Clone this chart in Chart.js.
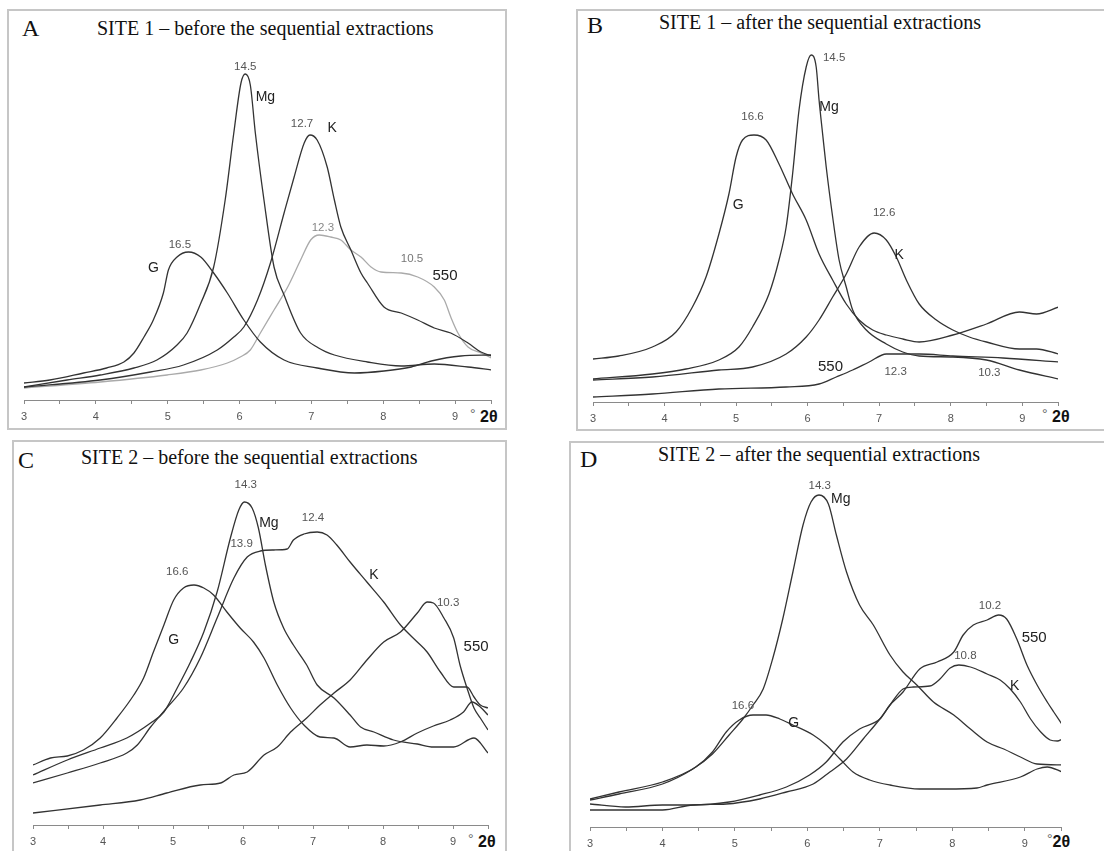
<!DOCTYPE html>
<html><head><meta charset="utf-8">
<script src="https://cdn.jsdelivr.net/npm/chart.js@4.4.0/dist/chart.umd.min.js"></script>
<style>
html,body{margin:0;padding:0;background:#fff;overflow:hidden;width:1104px;height:851px;}
.frame{position:absolute;border:2px solid #c6c6c6;box-sizing:border-box;}
.t{position:absolute;font-family:"Liberation Serif","Times New Roman",serif;color:#111;white-space:nowrap;font-size:20px;line-height:20px;}
.L{position:absolute;font-family:"Liberation Serif","Times New Roman",serif;color:#111;font-size:24px;line-height:24px;}
.u{position:absolute;font-family:"Liberation Sans",Arial,sans-serif;font-weight:bold;color:#111;font-size:16px;line-height:16px;white-space:nowrap;}
.u span{font-weight:normal;color:#666;font-size:14px;position:relative;top:-3px;}
canvas{position:absolute;}
</style></head><body>

<div class="frame" style="left:7px;top:9px;width:500px;height:421px;"></div>
<div class="frame" style="left:576px;top:9px;width:600px;height:422px;"></div>
<div class="frame" style="left:12px;top:440px;width:495px;height:500px;"></div>
<div class="frame" style="left:569px;top:441px;width:600px;height:500px;"></div>

<div class="L" style="left:22px;top:16px;">A</div>
<div class="t" style="left:97px;top:18px;">SITE 1 – before the sequential extractions</div>
<div class="L" style="left:587px;top:13px;">B</div>
<div class="t" style="left:659px;top:12px;">SITE 1 – after the sequential extractions</div>
<div class="L" style="left:18px;top:448px;">C</div>
<div class="t" style="left:81px;top:447px;">SITE 2 – before the sequential extractions</div>
<div class="L" style="left:580px;top:447px;">D</div>
<div class="t" style="left:658px;top:444px;">SITE 2 – after the sequential extractions</div>

<div class="u" style="left:470px;top:409px;"><span>°</span> 2θ</div>
<div class="u" style="left:1042px;top:409px;"><span>°</span> 2θ</div>
<div class="u" style="left:468px;top:834px;"><span>°</span> 2θ</div>
<div class="u" style="left:1047px;top:834px;"><span>°</span>2θ</div>

<canvas id="cA" width="487" height="386" style="left:14px;top:40px;"></canvas>
<canvas id="cB" width="485" height="386" style="left:583px;top:42px;"></canvas>
<canvas id="cC" width="475" height="386" style="left:23px;top:465px;"></canvas>
<canvas id="cD" width="491" height="386" style="left:580px;top:467px;"></canvas>

<script>
// ---- x-axis ticks (°2θ) ----
const tickMin = 3, tickMax = 9.5, tickStep = 0.5;

// ---- Panel A: SITE 1 before ----
const A_G_x = [3.00,3.36,3.83,4.15,4.39,4.53,4.67,4.80,4.94,5.01,5.13,5.29,5.46,5.64,5.83,6.06,6.29,6.62,7.08,7.60,8.01,8.39,8.67,9.08,9.51];
const A_G_y = [17,20,27,32,38,47,63,80,107,130,143,148,143,127,107,80,58,40,32,27,29,33,39,44,45];
const A_Mg_x = [3.00,3.60,4.06,4.53,4.85,5.13,5.27,5.45,5.64,5.80,5.92,6.02,6.08,6.15,6.22,6.34,6.48,6.62,6.85,7.10,7.32,7.78,8.25,8.71,9.18,9.51];
const A_Mg_y = [13,20,25,32,40,55,67,95,133,200,267,317,326,315,267,200,133,105,67,52,45,38,34,36,33,30];
const A_K_x = [3.00,4.06,4.76,5.22,5.69,5.92,6.06,6.25,6.43,6.62,6.76,6.90,6.98,7.08,7.22,7.32,7.41,7.55,7.69,7.78,8.01,8.25,8.48,8.71,8.94,9.18,9.36,9.51];
const A_K_y = [13,20,28,35,50,63,73,100,137,187,223,257,265,260,233,200,173,150,127,117,93,87,80,72,67,57,48,44];
const A_550_x = [3.00,4.06,4.99,5.46,5.83,6.01,6.15,6.29,6.48,6.67,6.85,6.99,7.11,7.27,7.41,7.55,7.69,7.83,7.97,8.25,8.48,8.71,8.85,8.94,9.04,9.18,9.36,9.51];
const A_550_y = [12,18,25,30,37,43,50,67,90,113,140,160,165,163,160,150,143,133,128,127,123,113,100,83,67,53,47,42];

// ---- Panel B: SITE 1 after ----
const B_G_x = [3.00,3.36,3.83,4.16,4.39,4.58,4.76,4.90,5.00,5.09,5.25,5.42,5.60,5.79,5.98,6.16,6.35,6.54,6.72,6.91,7.10,7.33,7.56,8.03,8.50,8.96,9.20,9.51];
const B_G_y = [43,46,55,70,95,125,168,208,245,262,267,262,238,208,182,148,122,98,82,72,67,63,60,67,78,90,88,95];
const B_Mg_x = [3.00,3.83,4.30,4.76,5.04,5.23,5.46,5.60,5.70,5.79,5.88,5.98,6.05,6.12,6.16,6.21,6.26,6.35,6.44,6.54,6.63,6.82,7.10,7.33,7.56,8.03,8.50,8.96,9.51];
const B_Mg_y = [23,28,33,42,55,75,108,142,175,228,292,335,347,335,302,268,235,185,142,115,92,72,58,50,46,45,42,32,23];
const B_K_x = [3.00,3.83,4.76,5.23,5.70,5.98,6.16,6.35,6.54,6.72,6.93,7.10,7.24,7.38,7.56,7.80,8.03,8.26,8.50,8.96,9.20,9.51];
const B_K_y = [22,25,32,35,48,65,82,105,128,155,169,162,145,122,98,82,72,65,60,53,53,48];
const B_550_x = [3.00,3.83,4.76,5.70,6.16,6.40,6.63,6.86,7.10,7.56,8.03,8.73,9.51];
const B_550_y = [5,8,13,15,18,25,32,40,48,48,46,44,40];

// ---- Panel C: SITE 2 before ----
const C_G_x = [3.00,3.25,3.49,3.72,3.96,4.20,4.44,4.58,4.72,4.87,5.01,5.15,5.30,5.44,5.58,5.77,5.96,6.15,6.30,6.49,6.68,6.87,7.10,7.30,7.53,7.77,8.01,8.25,8.49,8.72,8.96,9.15,9.27,9.39,9.50];
const C_G_y = [60,67,69,75,87,107,130,147,173,200,225,237,240,237,230,213,197,183,167,140,117,100,88,87,78,80,79,83,92,99,105,113,123,118,110];
const C_Mg_x = [3.00,3.49,3.96,4.34,4.68,4.87,5.06,5.25,5.44,5.63,5.82,5.94,6.02,6.13,6.22,6.32,6.44,6.58,6.72,6.91,7.06,7.30,7.53,7.68,7.87,8.15,8.49,8.72,9.01,9.30,9.50];
const C_Mg_y = [50,65,77,87,102,113,137,163,193,233,287,315,323,317,297,260,223,197,180,160,140,127,110,98,93,85,81,78,78,87,72];
const C_K_x = [3.00,3.49,3.96,4.34,4.49,4.68,4.91,5.15,5.39,5.63,5.87,6.06,6.25,6.44,6.63,6.72,6.87,7.06,7.20,7.34,7.53,7.77,8.01,8.25,8.49,8.63,8.82,9.01,9.20,9.30,9.39,9.50];
const C_K_y = [42,52,62,72,80,98,117,137,167,207,247,268,274,275,276,285,291,293,290,280,263,243,223,200,183,173,153,138,138,128,120,117];
const C_550_x = [3.00,3.96,4.53,4.91,5.39,5.68,5.87,6.06,6.30,6.49,6.68,6.91,7.10,7.30,7.53,7.77,8.01,8.25,8.49,8.63,8.72,8.87,9.01,9.10,9.20,9.30,9.39,9.50];
const C_550_y = [12,20,25,32,40,42,50,53,70,78,93,107,120,132,145,165,183,193,212,223,222,207,187,160,137,117,107,95];

// ---- Panel D: SITE 2 after ----
const D_G_x = [3.00,3.40,4.00,4.46,4.69,4.88,5.06,5.25,5.43,5.62,5.80,6.08,6.26,6.45,6.63,6.86,7.14,7.55,7.92,8.34,8.48,8.94,9.17,9.31,9.52];
const D_G_y = [28,35,45,60,75,95,107,112,112,108,102,92,82,68,55,47,42,38,38,39,42,50,58,60,55];
const D_Mg_x = [3.00,3.40,4.00,4.42,4.69,4.92,5.11,5.25,5.39,5.52,5.66,5.80,5.94,6.05,6.16,6.29,6.40,6.54,6.72,6.91,7.14,7.32,7.51,7.74,8.02,8.25,8.48,8.71,8.94,9.17,9.52];
const D_Mg_y = [27,33,43,58,73,92,108,122,138,168,208,255,302,325,332,323,292,255,222,202,172,155,142,125,112,98,85,78,70,63,62];
const D_K_x = [3.00,4.00,4.42,4.88,5.34,5.71,6.08,6.31,6.54,6.77,7.00,7.14,7.32,7.46,7.69,7.83,7.97,8.09,8.25,8.48,8.66,8.80,8.94,9.08,9.22,9.35,9.45,9.52];
const D_K_y = [17,17,22,23,28,35,43,55,68,88,108,122,138,140,141,148,159,162,160,153,147,138,125,108,95,87,86,88];
const D_550_x = [3.00,3.49,4.00,4.42,4.92,5.34,5.71,6.03,6.26,6.49,6.72,7.00,7.14,7.32,7.55,7.79,8.02,8.15,8.29,8.48,8.64,8.75,8.89,9.03,9.17,9.31,9.40,9.52];
const D_550_y = [23,20,22,22,25,32,40,52,65,85,98,108,122,135,158,165,175,192,202,207,212,208,188,162,142,125,115,102];

const numF = '11.5px "Liberation Sans", Arial, sans-serif';
const numC = '#555';
const letF = '14px "Liberation Sans", Arial, sans-serif';
const letC = '#222';
const bigF = '15px "Liberation Sans", Arial, sans-serif';

const labelsA = [
  {t:'14.5',x:6.08,y:333,f:numF,c:numC},{t:'Mg',x:6.36,y:303,f:letF,c:letC},
  {t:'12.7',x:6.87,y:276,f:numF,c:numC},{t:'K',x:7.29,y:272,f:letF,c:letC},
  {t:'12.3',x:7.16,y:172,f:numF,c:'#888'},{t:'16.5',x:5.17,y:155,f:numF,c:numC},
  {t:'G',x:4.80,y:132,f:letF,c:letC},{t:'10.5',x:8.40,y:141,f:numF,c:'#777'},
  {t:'550',x:8.86,y:124,f:bigF,c:letC}
];
const labelsB = [
  {t:'14.5',x:6.37,y:344,f:numF,c:numC},{t:'Mg',x:6.30,y:295,f:letF,c:letC},
  {t:'16.6',x:5.23,y:285,f:numF,c:numC},{t:'G',x:5.03,y:197,f:letF,c:letC},
  {t:'12.6',x:7.07,y:189,f:numF,c:numC},{t:'K',x:7.28,y:147,f:letF,c:letC},
  {t:'550',x:6.32,y:35,f:bigF,c:letC},{t:'12.3',x:7.23,y:30,f:numF,c:numC},
  {t:'10.3',x:8.54,y:29,f:numF,c:numC}
];
const labelsC = [
  {t:'14.3',x:6.04,y:340,f:numF,c:numC},{t:'Mg',x:6.37,y:302,f:letF,c:letC},
  {t:'12.4',x:7.00,y:307,f:numF,c:numC},{t:'13.9',x:5.98,y:281,f:numF,c:numC},
  {t:'16.6',x:5.06,y:253,f:numF,c:numC},{t:'K',x:7.87,y:250,f:letF,c:letC},
  {t:'10.3',x:8.93,y:222,f:numF,c:numC},{t:'G',x:5.01,y:185,f:letF,c:letC},
  {t:'550',x:9.33,y:178,f:bigF,c:letC}
];
const labelsD = [
  {t:'14.3',x:6.17,y:341,f:numF,c:numC},{t:'Mg',x:6.46,y:328,f:letF,c:letC},
  {t:'10.2',x:8.52,y:221,f:numF,c:numC},{t:'550',x:9.13,y:189,f:bigF,c:letC},
  {t:'10.8',x:8.18,y:171,f:numF,c:numC},{t:'K',x:8.86,y:141,f:letF,c:letC},
  {t:'16.6',x:5.11,y:121,f:numF,c:numC},{t:'G',x:5.81,y:104,f:letF,c:letC}
];

const txtPlugin = {
  id:'txt',
  afterDatasetsDraw(chart, args, opts){
    const {ctx, scales:{x, y}} = chart;
    ctx.save();
    ctx.textAlign = 'center'; ctx.textBaseline = 'middle';
    (opts.items || []).forEach(it => {
      ctx.font = it.f; ctx.fillStyle = it.c;
      ctx.fillText(it.t, x.getPixelForValue(it.x), y.getPixelForValue(it.y));
    });
    ctx.restore();
  }
};

function pts(xs, ys){ return xs.map((v,i)=>({x:v, y:ys[i]})); }
function ds(xs, ys, color){
  return {data: pts(xs, ys), borderColor: color, borderWidth: 1.3, pointRadius: 0,
          fill: false, cubicInterpolationMode: 'monotone', tension: 0.4};
}

function make(id, datasets, labels){
  new Chart(document.getElementById(id), {
    type: 'line',
    data: {datasets},
    options: {
      responsive: false, animation: false, events: [],
      layout: {padding: {left: 10, right: 10, top: 0, bottom: 0}},
      plugins: {legend: {display: false}, tooltip: {enabled: false}, txt: {items: labels}},
      scales: {
        x: {type: 'linear', min: tickMin, max: tickMax,
            border: {display: true, color: '#8a8a8a', width: 1},
            grid: {display: true, drawOnChartArea: false, drawTicks: true, tickLength: 4, color: '#8a8a8a'},
            ticks: {stepSize: tickStep, autoSkip: false, maxRotation: 0, padding: 6, color: '#555',
                    font: {family: '"Liberation Sans", Arial, sans-serif', size: 11},
                    callback: v => Number.isInteger(v) ? String(v) : ''},
            afterFit: s => { s.height = 26; }},
        y: {display: false, min: 0, max: 360}
      }
    },
    plugins: [txtPlugin]
  });
}

const dark = '#333';
make('cA', [ds(A_G_x, A_G_y, dark), ds(A_Mg_x, A_Mg_y, dark), ds(A_K_x, A_K_y, dark), ds(A_550_x, A_550_y, '#aaa')], labelsA);
make('cB', [ds(B_G_x, B_G_y, dark), ds(B_Mg_x, B_Mg_y, dark), ds(B_K_x, B_K_y, dark), ds(B_550_x, B_550_y, dark)], labelsB);
make('cC', [ds(C_G_x, C_G_y, dark), ds(C_Mg_x, C_Mg_y, dark), ds(C_K_x, C_K_y, dark), ds(C_550_x, C_550_y, dark)], labelsC);
make('cD', [ds(D_G_x, D_G_y, dark), ds(D_Mg_x, D_Mg_y, dark), ds(D_K_x, D_K_y, dark), ds(D_550_x, D_550_y, dark)], labelsD);
</script>
</body></html>
